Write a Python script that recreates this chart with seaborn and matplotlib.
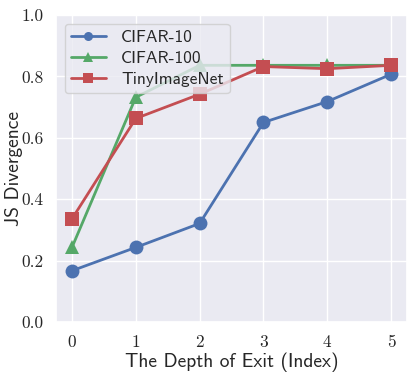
import matplotlib
matplotlib.use("Agg")
import matplotlib.pyplot as plt
import seaborn as sns
import pandas as pd

exits = [0, 1, 2, 3, 4, 5]
cifar10 = [0.167, 0.243, 0.321, 0.650, 0.718, 0.807]
cifar100 = [0.243, 0.732, 0.836, 0.836, 0.836, 0.836]
tiny = [0.336, 0.663, 0.742, 0.832, 0.825, 0.836]
series_names = ["CIFAR-10", "CIFAR-100", "TinyImageNet"]

rows = []
for name, vals in zip(series_names, [cifar10, cifar100, tiny]):
    for x, v in zip(exits, vals):
        rows.append({"exit": x, "js": v, "dataset": name})
df = pd.DataFrame(rows)

sns.set_theme(style="darkgrid", palette="deep")
plt.rcParams["mathtext.fontset"] = "cm"
plt.rcParams["axes.unicode_minus"] = False

fig = plt.figure(figsize=(4.15, 3.74), dpi=100)
ax = fig.add_axes([0.135, 0.139, 0.846, 0.821])

pal = sns.color_palette("deep")
sns.lineplot(data=df, x="exit", y="js", hue="dataset", style="dataset",
             markers={"CIFAR-10": "o", "CIFAR-100": "^", "TinyImageNet": "s"},
             dashes=False, palette=[pal[0], pal[2], pal[3]],
             markersize=10, linewidth=2, markeredgewidth=0, ax=ax)

ax.set_ylim(0, 1.0)
ax.set_xlim(-0.25, 5.25)
ax.set_xticks(exits)
ax.set_yticks([0.0, 0.2, 0.4, 0.6, 0.8, 1.0])
ax.set_xticklabels([str(x) for x in exits], family="cmr10", fontsize=12.5)
ax.set_yticklabels(["%.1f" % v for v in [0.0, 0.2, 0.4, 0.6, 0.8, 1.0]], family="cmr10", fontsize=12.5)
ax.tick_params(axis="both", pad=3)
ax.set_xlabel("The Depth of Exit (Index)", family="cmss10", fontsize=14, labelpad=2)
ax.set_ylabel("JS Divergence", family="cmss10", fontsize=14)
ax.yaxis.set_label_coords(-0.093, 0.5)

leg = ax.legend(loc="upper left", prop={"family": "cmss10", "size": 12.5},
                markerscale=0.65, handlelength=2.0, handletextpad=0.9,
                borderpad=0.35, labelspacing=0.35)

fig.savefig("out.png", dpi=100)
